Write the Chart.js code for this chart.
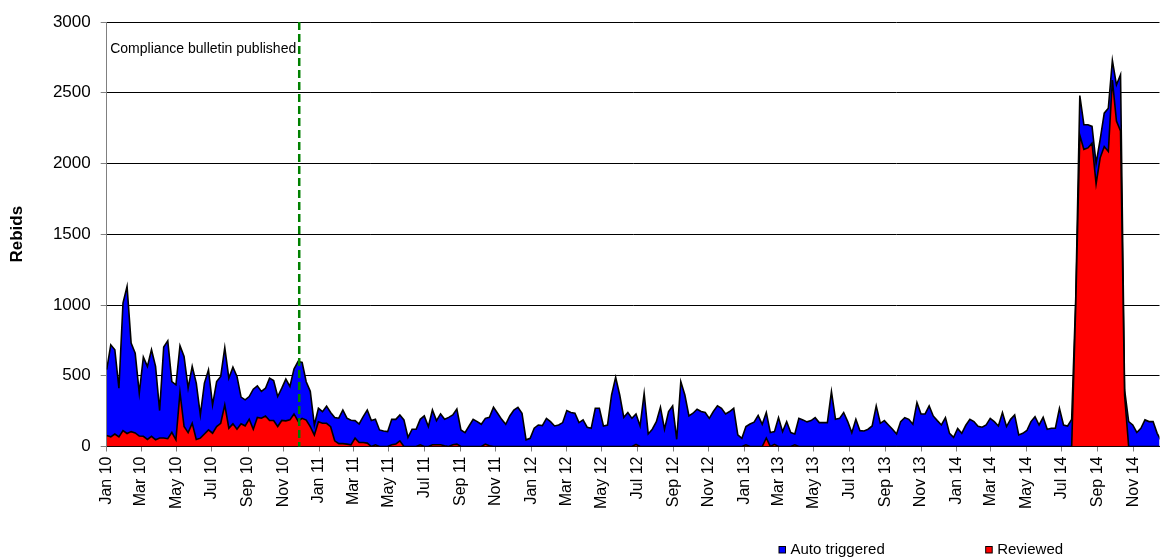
<!DOCTYPE html>
<html>
<head>
<meta charset="utf-8">
<title>Rebids</title>
<script src="https://cdn.jsdelivr.net/npm/chart.js@4.4.1/dist/chart.umd.min.js"></script>
<style>
  html, body { margin: 0; padding: 0; background: #fff; }
  #rebidChart { display: block; }
</style>
</head>
<body>
<canvas id="rebidChart" width="1160" height="557"></canvas>
<script>
// weekly counts, first week starts 1 Jan 2010
const firstWeek = '2010-01-01';

const reviewed = [
  77, 68, 88, 68, 112, 92, 105, 96, 74, 72,
  50, 72, 48, 60, 60, 55, 100, 47, 382, 141,
  98, 165, 50, 59, 88, 117, 94, 141, 164, 294,
  129, 160, 122, 160, 146, 193, 122, 205, 200, 216,
  184, 184, 141, 184, 181, 188, 230, 180, 199, 187,
  140, 81, 175, 164, 164, 140, 40, 20, 20, 17,
  12, 59, 28, 28, 24, 0, 12, 0, 0, 0,
  12, 17, 40, 0, 0, 0, 0, 12, 0, 0,
  12, 12, 12, 5, 0, 12, 17, 0, 0, 0,
  0, 0, 0, 17, 5, 0, 0, 0, 0, 0,
  0, 0, 0, 0, 0, 0, 0, 0, 0, 0,
  0, 0, 0, 0, 0, 0, 0, 0, 0, 0,
  0, 0, 0, 0, 0, 0, 0, 0, 0, 0,
  15, 0, 0, 0, 0, 0, 0, 0, 0, 0,
  0, 0, 0, 0, 0, 0, 0, 0, 0, 0,
  0, 0, 0, 0, 0, 0, 0, 12, 0, 0,
  0, 0, 60, 0, 15, 0, 0, 0, 0, 12,
  0, 0, 0, 0, 0, 0, 0, 0, 0, 0,
  0, 0, 0, 0, 0, 0, 0, 0, 0, 0,
  0, 0, 0, 0, 0, 0, 0, 0, 0, 0,
  0, 0, 0, 0, 0, 0, 0, 0, 0, 0,
  0, 0, 0, 0, 0, 0, 0, 0, 0, 0,
  0, 0, 0, 0, 0, 0, 0, 0, 0, 0,
  0, 0, 0, 0, 0, 0, 0, 0, 1000, 2200,
  2100, 2110, 2144, 1856, 2040, 2120, 2085, 2590, 2300, 2230,
  360, 0, 0, 0, 0, 0, 0, 0, 0, 0
];

const autoTriggered = [
  466, 651, 596, 344, 902, 1040, 626, 564, 303, 560,
  516, 612, 518, 194, 643, 692, 359, 389, 330, 496,
  314, 401, 398, 164, 360, 425, 200, 318, 331, 404,
  354, 401, 373, 189, 184, 160, 283, 224, 189, 196,
  299, 282, 212, 228, 295, 236, 317, 421, 395, 271,
  250, 71, 95, 82, 121, 100, 165, 180, 238, 183,
  173, 124, 131, 183, 234, 183, 180, 117, 110, 105,
  180, 175, 183, 188, 65, 122, 122, 180, 216, 141,
  246, 171, 218, 187, 206, 211, 248, 117, 98, 145,
  192, 176, 157, 182, 201, 277, 235, 192, 157, 216,
  258, 277, 235, 47, 58, 129, 152, 148, 199, 176,
  145, 152, 169, 254, 240, 235, 169, 188, 136, 129,
  270, 270, 145, 152, 364, 489, 364, 206, 240, 199,
  215, 145, 376, 89, 122, 176, 277, 122, 247, 287,
  51, 459, 364, 216, 235, 263, 247, 240, 199, 247,
  287, 270, 230, 247, 270, 82, 58, 129, 159, 172,
  220, 157, 180, 98, 90, 204, 105, 176, 98, 77,
  199, 188, 174, 183, 204, 169, 169, 169, 388, 192,
  199, 240, 176, 98, 192, 112, 110, 122, 145, 287,
  164, 183, 152, 122, 89, 176, 204, 192, 157, 310,
  230, 230, 287, 216, 183, 152, 204, 93, 65, 127,
  93, 150, 192, 176, 143, 136, 152, 199, 176, 145,
  240, 141, 192, 223, 82, 93, 113, 176, 211, 152,
  206, 122, 129, 129, 270, 152, 145, 192, 50, 280,
  174, 164, 118, 144, 130, 236, 306, 138, 256, 397,
  40, 176, 152, 99, 129, 188, 176, 176, 93, 40
];

const tickLabels = [
  'Jan 10', 'Mar 10', 'May 10', 'Jul 10', 'Sep 10', 'Nov 10',
  'Jan 11', 'Mar 11', 'May 11', 'Jul 11', 'Sep 11', 'Nov 11',
  'Jan 12', 'Mar 12', 'May 12', 'Jul 12', 'Sep 12', 'Nov 12',
  'Jan 13', 'Mar 13', 'May 13', 'Jul 13', 'Sep 13', 'Nov 13',
  'Jan 14', 'Mar 14', 'May 14', 'Jul 14', 'Sep 14', 'Nov 14'
];

const bulletinDate = '2010-11-28';
const bulletinText = 'Compliance bulletin published';

const DAY = 86400000;
const start = Date.parse(firstWeek);
const dayOf = s => (Date.parse(s) - start) / DAY;

// x positions: days since first week
const weekDays = reviewed.map((_, i) => i * 7);
const monthNames = { Jan: 0, Mar: 2, May: 4, Jul: 6, Sep: 8, Nov: 10 };
const tickDays = tickLabels.map(l => {
  const [m, y] = l.split(' ');
  return (Date.UTC(2000 + Number(y), monthNames[m], 1) - start) / DAY;
});

Chart.defaults.font.family = 'Arial, "Liberation Sans", sans-serif';
Chart.defaults.color = '#000';

// dashed marker + legend at the bottom
const extras = {
  id: 'extras',
  afterDatasetsDraw(chart) {
    const { ctx, chartArea, scales } = chart;
    const x = scales.x.getPixelForValue(dayOf(bulletinDate));
    ctx.save();
    ctx.strokeStyle = '#008000';
    ctx.lineWidth = 2.5;
    ctx.setLineDash([8, 4]);
    ctx.beginPath();
    ctx.moveTo(x, chartArea.top);
    ctx.lineTo(x, chartArea.bottom);
    ctx.stroke();
    ctx.setLineDash([]);
    ctx.font = '14px Arial, "Liberation Sans", sans-serif';
    ctx.fillStyle = '#000';
    ctx.textAlign = 'left';
    ctx.textBaseline = 'alphabetic';
    ctx.fillText(bulletinText, chartArea.left + 3.5, 52.5);
    ctx.restore();
  },
  afterDraw(chart) {
    const { ctx } = chart;
    const items = [
      { ds: chart.data.datasets[1], x: 779 },
      { ds: chart.data.datasets[0], x: 985.7 }
    ];
    ctx.save();
    ctx.font = '15px Arial, "Liberation Sans", sans-serif';
    ctx.textBaseline = 'alphabetic';
    items.forEach(it => {
      ctx.fillStyle = it.ds.backgroundColor;
      ctx.fillRect(it.x, 546.5, 6.5, 6.5);
      ctx.strokeStyle = '#000';
      ctx.lineWidth = 1;
      ctx.strokeRect(it.x, 546.5, 6.5, 6.5);
      ctx.fillStyle = '#000';
      ctx.fillText(it.ds.label, it.x + 11.5, 554);
    });
    ctx.restore();
  }
};

const ctx = document.getElementById('rebidChart').getContext('2d');
const chart = new Chart(ctx, {
  type: 'line',
  data: {
    datasets: [
      {
        label: 'Reviewed',
        data: reviewed.map((v, i) => ({ x: weekDays[i], y: v })),
        backgroundColor: '#ff0000',
        borderColor: '#000',
        borderWidth: 1.6,
        fill: 'origin',
        pointRadius: 0,
        tension: 0
      },
      {
        label: 'Auto triggered',
        data: autoTriggered.map((v, i) => ({ x: weekDays[i], y: v })),
        backgroundColor: '#0000ff',
        borderColor: '#000',
        borderWidth: 1.6,
        fill: '-1',
        pointRadius: 0,
        tension: 0
      }
    ]
  },
  options: {
    responsive: false,
    animation: false,
    devicePixelRatio: 1,
    layout: { padding: { left: 0, right: 0.5, top: 22, bottom: 0 } },
    plugins: {
      legend: { display: false },
      tooltip: { enabled: false }
    },
    scales: {
      x: {
        type: 'linear',
        min: 0,
        max: 1810,
        afterBuildTicks: s => { s.ticks = tickDays.map(v => ({ value: v })); },
        afterFit: s => { s.height = 110.5; },
        ticks: {
          autoSkip: false,
          minRotation: 90,
          maxRotation: 90,
          padding: 5,
          font: { size: 16 },
          callback: (v, i) => tickLabels[i]
        },
        grid: { drawOnChartArea: false, tickLength: 5, tickColor: '#808080' },
        border: { color: '#000', width: 1 }
      },
      y: {
        stacked: true,
        min: 0,
        max: 3000,
        afterFit: s => { s.width = 106.7; },
        ticks: { stepSize: 500, padding: 10, font: { size: 17 }, callback: v => String(v) },
        grid: { color: '#000', lineWidth: 1, tickLength: 6, tickColor: '#808080' },
        border: { color: '#808080', width: 1 },
        title: {
          display: true,
          text: 'Rebids',
          font: { size: 17, weight: 'bold' },
          padding: { top: 7, bottom: 0 }
        }
      }
    }
  },
  plugins: [extras]
});
</script>
</body>
</html>
